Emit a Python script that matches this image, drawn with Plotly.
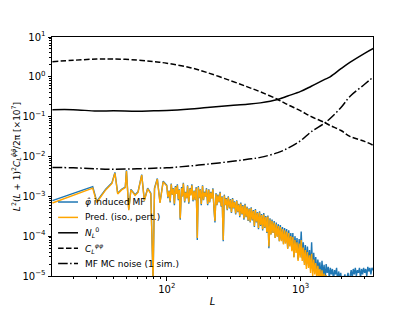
import plotly.graph_objects as go

# ---------------- data ----------------
L_low = [14, 28, 30, 35, 39, 41, 43, 46, 49, 50, 52, 54, 58, 61, 65, 68, 72, 76, 79, 81, 85, 89, 94]
mf_low = [7.8e-4, 1.75e-3, 7.5e-4, 1.5e-3, 2.2e-3, 4.0e-3, 1.2e-3, 1.5e-3, 1.7e-3, 4.5e-3, 4.7e-4, 1.5e-3,
          1.1e-3, 1.3e-3, 3.5e-3, 8e-4, 1.6e-3, 1.2e-3, 8e-6, 1.6e-3, 2.8e-3, 7e-4, 2.4e-3]
pred_low = [6.8e-4, 1.6e-3, 7e-4, 1.45e-3, 2.1e-3, 3.8e-3, 1.15e-3, 1.45e-3, 1.65e-3, 4.3e-3, 4.5e-4, 1.45e-3,
            1.05e-3, 1.25e-3, 3.4e-3, 7.8e-4, 1.55e-3, 1.15e-3, 8e-6, 1.55e-3, 2.7e-3, 6.8e-4, 2.3e-3]

L_high = [100, 102, 104, 106, 108, 110, 112, 114, 116, 118,
          120, 122, 124, 126, 129, 131, 133, 136, 138, 141,
          143, 146, 149, 151, 154, 157, 160, 163, 166, 169,
          172, 175, 178, 181, 185, 188, 191, 195, 198, 202,
          206, 209, 213, 217, 221, 225, 229, 233, 237, 241,
          246, 250, 255, 259, 264, 269, 273, 278, 283, 288,
          294, 299, 304, 310, 315, 321, 327, 333, 339, 345,
          351, 357, 364, 370, 377, 384, 391, 398, 405, 412,
          420, 427, 435, 443, 451, 459, 467, 476, 484, 493,
          502, 511, 520, 530, 539, 549, 559, 569, 579, 590,
          600, 611, 622, 634, 645, 657, 668, 681, 693, 705,
          718, 731, 744, 758, 771, 785, 800, 814, 829, 844,
          859, 874, 890, 906, 923, 939, 956, 974, 991, 1009,
          1027, 1046, 1065, 1084, 1103, 1123, 1144, 1164, 1185, 1207,
          1229, 1251, 1273, 1296, 1320, 1343, 1368, 1392, 1418, 1443,
          1469, 1496, 1523, 1550, 1578, 1607, 1636, 1665, 1695, 1726,
          1757, 1789, 1821, 1854, 1888, 1922, 1956, 1992, 2028, 2064,
          2101, 2139, 2178, 2217, 2257, 2298, 2340, 2382, 2425, 2468,
          2513, 2558, 2604, 2651, 2699, 2748, 2797, 2848, 2899, 2951,
          3005, 3059, 3114, 3170, 3227, 3286, 3345, 3405, 3467]
mf_high = [1.9e-3, 9e-4, 1.4e-3, 7e-4, 2.1e-3, 1.1e-3, 1.6e-3, 6e-4, 1.8e-3, 1.2e-3,
           2.0e-3, 8e-4, 1.5e-3, 2.6e-4, 1.7e-3, 1.0e-3, 2.2e-3, 7e-4, 1.3e-3, 9e-4,
           1.9e-3, 6.5e-4, 1.6e-3, 1.1e-3, 2.0e-3, 7.5e-4, 1.4e-3, 8e-4, 1.7e-3, 8e-5,
           1.8e-3, 9e-4, 1.5e-3, 6e-4, 1.9e-3, 8e-4, 1.3e-3, 1.0e-3, 1.6e-3, 6e-4,
           1.5e-3, 7e-4, 1.3e-3, 9e-4, 1.6e-3, 5e-4, 2.2e-4, 1.2e-3, 6e-4, 1.1e-3,
           7e-4, 1.3e-3, 5.5e-4, 1.0e-3, 7.5e-5, 1.1e-3, 6e-4, 9e-4, 4.5e-4, 1.0e-3,
           5e-4, 8.5e-4, 3.8e-4, 9e-4, 5e-4, 7.5e-4, 3.5e-4, 8e-4, 4e-4, 6.5e-4,
           3e-4, 7e-4, 3.5e-4, 6e-4, 2.6e-4, 6.5e-4, 3e-4, 5.5e-4, 2.4e-4, 5e-4,
           2.2e-4, 5.3e-4, 2.5e-4, 4.5e-4, 1.7e-4, 4.8e-4, 2.2e-4, 4e-4, 1.5e-4, 4.2e-4,
           1.8e-4, 3.6e-4, 1.4e-4, 3.8e-4, 1.6e-4, 3.2e-4, 1.2e-4, 3.3e-4, 5e-5, 2.8e-4,
           1.1e-4, 2.6e-4, 1.2e-4, 2.4e-4, 9e-5, 2.2e-4, 1.0e-4, 2.0e-4, 7.5e-5, 1.9e-4,
           8e-5, 1.7e-4, 6.5e-5, 1.6e-4, 7e-5, 1.5e-4, 5e-5, 1.4e-4, 6e-5, 1.2e-4,
           4.5e-5, 1.2e-4, 3e-5, 1.0e-4, 4.5e-5, 9e-5, 2.6e-5, 8.5e-5, 3.5e-5, 1.3e-4,
           2.8e-5, 7e-5, 2.2e-5, 6e-5, 1.8e-5, 5.5e-5, 2.0e-5, 4.5e-5, 1.5e-5, 7e-5,
           1.3e-5, 3.8e-5, 1.6e-5, 3e-5, 1.1e-5, 2.6e-5, 1.4e-5, 2.2e-5, 9e-6, 2.4e-5,
           1.0e-5, 1.9e-5, 8e-6, 2.0e-5, 1.2e-5, 1.7e-5, 9e-6, 1.6e-5, 1.1e-5, 1.5e-5,
           8e-6, 1.4e-5, 1.1e-5, 1.6e-5, 7e-6, 1.3e-5, 9e-6, 1.2e-5, 6e-6, 1.0e-5,
           8e-6, 1.1e-5, 6e-6, 9e-6, 1.2e-5, 7e-6, 1.0e-5, 1.4e-5, 9e-6, 1.5e-5,
           1.1e-5, 1.6e-5, 1.0e-5, 1.4e-5, 1.2e-5, 1.6e-5, 9e-6, 1.5e-5, 1.1e-5, 1.6e-5,
           1.2e-5, 1.5e-5, 1.0e-5, 1.7e-5, 1.3e-5, 1.6e-5, 1.1e-5, 1.6e-5, 1.4e-5]
pred_high = [1.8e-3, 9.5e-4, 1.35e-3, 7.5e-4, 2.0e-3, 1.1e-3, 1.55e-3, 6.5e-4, 1.7e-3, 1.15e-3,
             1.9e-3, 8.5e-4, 1.45e-3, 2.8e-4, 1.6e-3, 1.0e-3, 2.1e-3, 7.5e-4, 1.25e-3, 9e-4,
             1.8e-3, 7e-4, 1.55e-3, 1.05e-3, 1.9e-3, 8e-4, 1.35e-3, 8.2e-4, 1.6e-3, 9e-5,
             1.7e-3, 9.2e-4, 1.45e-3, 6.4e-4, 1.8e-3, 8.2e-4, 1.25e-3, 9.8e-4, 1.5e-3, 6.4e-4,
             1.45e-3, 7.2e-4, 1.25e-3, 8.8e-4, 1.5e-3, 5.3e-4, 2.4e-4, 1.15e-3, 6.2e-4, 1.05e-3,
             7.2e-4, 1.22e-3, 5.7e-4, 9.6e-4, 8e-5, 1.05e-3, 6.1e-4, 8.6e-4, 4.7e-4, 9.4e-4,
             5.2e-4, 8.2e-4, 4e-4, 8.5e-4, 5.1e-4, 7.2e-4, 3.7e-4, 7.6e-4, 4.1e-4, 6.2e-4,
             3.2e-4, 6.6e-4, 3.6e-4, 5.7e-4, 2.8e-4, 6.1e-4, 3.1e-4, 5.2e-4, 2.5e-4, 4.8e-4,
             2.3e-4, 5e-4, 2.6e-4, 4.3e-4, 1.8e-4, 4.5e-4, 2.3e-4, 3.8e-4, 1.6e-4, 3.9e-4,
             1.9e-4, 3.4e-4, 1.5e-4, 3.5e-4, 1.65e-4, 3e-4, 1.25e-4, 3.1e-4, 5.5e-5, 2.6e-4,
             1.1e-4, 2.4e-4, 1.2e-4, 2.2e-4, 9e-5, 2.0e-4, 9.5e-5, 1.8e-4, 7.5e-5, 1.7e-4,
             7.5e-5, 1.5e-4, 6.2e-5, 1.4e-4, 6.5e-5, 1.3e-4, 4.8e-5, 1.2e-4, 5.5e-5, 1.0e-4,
             4.2e-5, 9.5e-5, 2.9e-5, 8e-5, 3.8e-5, 7e-5, 2.4e-5, 6.5e-5, 2.9e-5, 8e-5,
             2.4e-5, 5.2e-5, 1.9e-5, 4.5e-5, 1.5e-5, 4e-5, 1.6e-5, 3.3e-5, 1.2e-5, 3.6e-5,
             1.0e-5, 2.6e-5, 1.1e-5, 2.1e-5, 8e-6, 1.8e-5, 9e-6, 1.5e-5, 6e-6, 1.4e-5,
             6e-6, 1.15e-5, 5e-6, 1.05e-5, 6e-6, 8e-6, 4.5e-6, 7e-6, 5e-6, 6e-6,
             4e-6, 5.5e-6, 4e-6, 5e-6, 3e-6, 4.5e-6, 3.2e-6, 4e-6, 2.5e-6, 3.5e-6,
             2.8e-6, 3.3e-6, 2.2e-6, 2.9e-6, 3e-6, 2e-6, 2.6e-6, 2.9e-6, 1.9e-6, 2.6e-6,
             1.8e-6, 2.3e-6, 1.6e-6, 2e-6, 1.7e-6, 2e-6, 1.3e-6, 1.8e-6, 1.3e-6, 1.7e-6,
             1.2e-6, 1.5e-6, 1e-6, 1.4e-6, 1.1e-6, 1.3e-6, 9e-7, 1.2e-6, 1e-6]
assert len(L_high) == len(mf_high) == len(pred_high)

L_smooth = [14, 20, 30, 40, 60, 80, 100, 150, 200, 300, 400, 500, 675, 800, 1000, 1200, 1500,
            1660, 2000, 2330, 3000, 3500]
N0 = [0.15, 0.15, 0.138, 0.14, 0.137, 0.14, 0.142, 0.155, 0.17, 0.19, 0.205, 0.222, 0.27, 0.33,
      0.43, 0.58, 0.85, 1.0, 1.6, 2.3, 3.9, 5.2]
Cpp = [2.4, 2.6, 2.8, 2.8, 2.65, 2.4, 2.2, 1.7, 1.28, 0.8, 0.56, 0.42, 0.27, 0.2,
       0.14, 0.1, 0.072, 0.06, 0.045, 0.032, 0.024, 0.019]
MC_noise = [0.0053, 0.0052, 0.0049, 0.0048, 0.0049, 0.0051, 0.0052, 0.0058, 0.0064, 0.0075, 0.0085,
            0.0095, 0.0125, 0.016, 0.025, 0.042, 0.068, 0.09, 0.17, 0.32, 0.65, 1.0]

y_tickvals = [1e-5, 1e-4, 1e-3, 1e-2, 1e-1, 1e0, 1e1]
y_ticktext = ["10<sup>−5</sup>", "10<sup>−4</sup>", "10<sup>−3</sup>", "10<sup>−2</sup>",
              "10<sup>−1</sup>", "10<sup>0</sup>", "10<sup>1</sup>"]
x_tickvals = [100, 1000]
x_ticktext = ["10<sup>2</sup>", "10<sup>3</sup>"]

labels = ["<i>φ̂</i> induced MF", "Pred. (iso., pert.)", "<i>N</i><sub><i>L</i></sub><sup>0</sup>",
          "<i>C</i><sub><i>L</i></sub><sup><i>φφ</i></sup>", "MF MC noise (1 sim.)"]

# ---------------- figure ----------------
fig = go.Figure()
fig.add_trace(go.Scatter(x=L_low + L_high, y=mf_low + mf_high, mode="lines", name=labels[0],
                         line=dict(color="#1f77b4", width=1.4)))
fig.add_trace(go.Scatter(x=L_low + L_high, y=pred_low + pred_high, mode="lines", name=labels[1],
                         line=dict(color="#FFA500", width=1.4)))
fig.add_trace(go.Scatter(x=L_smooth, y=N0, mode="lines", name=labels[2], line_shape="spline",
                         line=dict(color="black", width=1.5)))
fig.add_trace(go.Scatter(x=L_smooth, y=Cpp, mode="lines", name=labels[3], line_shape="spline",
                         line=dict(color="black", width=1.5, dash="5.5px,2.4px")))
fig.add_trace(go.Scatter(x=L_smooth, y=MC_noise, mode="lines", name=labels[4], line_shape="spline",
                         line=dict(color="black", width=1.5, dash="9.6px,2.4px,1.5px,2.4px")))

# hand-built legend (transparent, like the reference)
leg_styles = [dict(color="#1f77b4", width=1.5), dict(color="#FFA500", width=1.5),
              dict(color="black", width=1.5), dict(color="black", width=1.5, dash="5.5px,2.4px"),
              dict(color="black", width=1.5, dash="9.6px,2.4px,1.5px,2.4px")]
leg_y = [0.3096, 0.2452, 0.1808, 0.1163, 0.0519]
for lab, st, yy in zip(labels, leg_styles, leg_y):
    fig.add_shape(type="line", xref="paper", yref="paper", x0=0.019, x1=0.081, y0=yy, y1=yy, line=st)
    fig.add_annotation(xref="paper", yref="paper", x=0.097, y=yy, text=lab, showarrow=False,
                       xanchor="left", yanchor="middle", font=dict(size=9, color="black"))

axis_common = dict(showline=True, linecolor="black", linewidth=1, mirror=True, showgrid=False,
                   zeroline=False, ticks="outside", ticklen=3.5, tickwidth=0.8, tickcolor="black",
                   tickfont=dict(size=10, color="black"), automargin=False)

fig.update_xaxes(type="log", range=[1.143, 3.540], tickvals=x_tickvals, ticktext=x_ticktext,
                 minor=dict(ticks="outside", ticklen=2, tickwidth=0.6, tickcolor="black",
                            tickvals=[20, 30, 40, 50, 60, 70, 80, 90, 200, 300, 400, 500, 600,
                                      700, 800, 900, 2000, 3000]),
                 title=dict(text="<i>L</i>", font=dict(size=10, color="black"), standoff=4),
                 **axis_common)
fig.update_yaxes(type="log", range=[-5, 1], tickvals=y_tickvals, ticktext=y_ticktext,
                 minor=dict(ticks="outside", ticklen=2, tickwidth=0.6, tickcolor="black",
                            tickvals=[m * 10.0 ** e for e in range(-5, 1) for m in range(2, 10)]),
                 title=dict(text="<i>L</i><sup>2</sup>(<i>L</i> + 1)<sup>2</sup><i>C</i><sub><i>L</i></sub>"
                                 "<sup><i>φ̂φ̂</i></sup>/2π [×10<sup>7</sup>]",
                            font=dict(size=9, color="black"), standoff=0),
                 **axis_common)

# the page body adds an 8 px margin, so the figure is drawn 8 px smaller
fig.update_layout(
    width=407, height=303,
    margin=dict(l=44, r=42, t=29, b=35),
    paper_bgcolor="white", plot_bgcolor="white",
    font=dict(family="DejaVu Sans", size=10, color="black"),
    showlegend=False,
)

fig.write_html("out.html")
